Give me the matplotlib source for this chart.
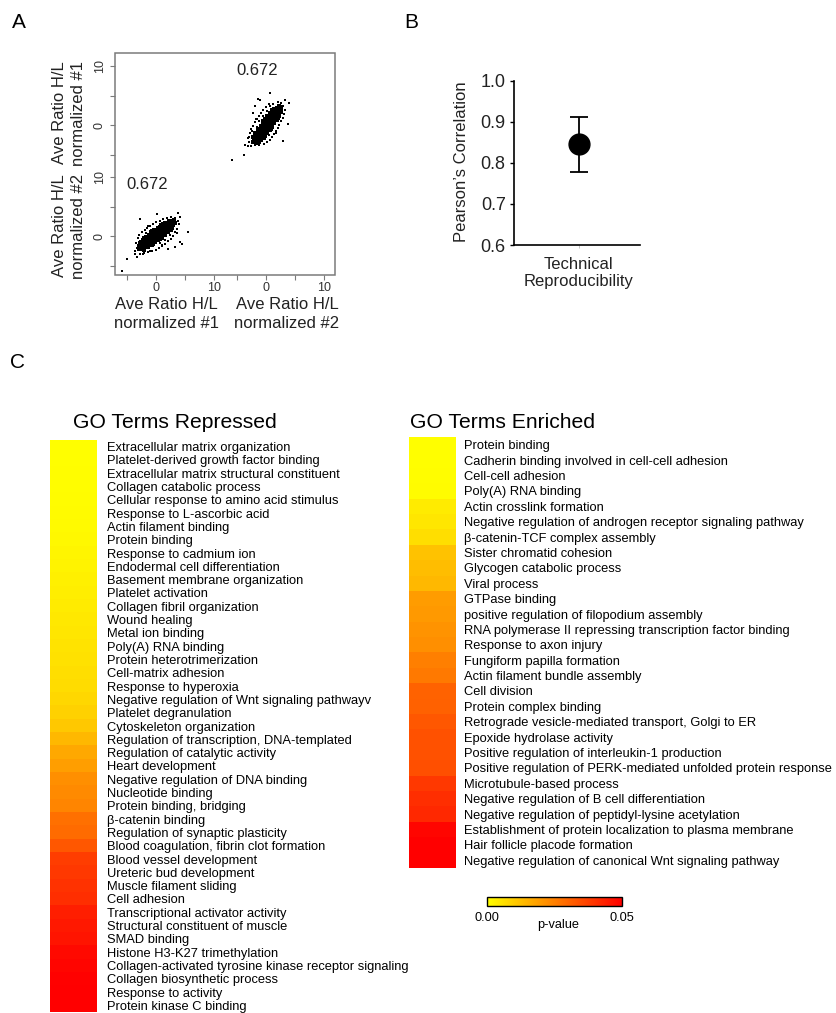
import matplotlib
matplotlib.use("Agg")
import matplotlib.pyplot as plt
from matplotlib.colors import LinearSegmentedColormap, Normalize
from matplotlib.cm import ScalarMappable
from matplotlib.patches import Rectangle
import numpy as np

plt.rcParams['font.family'] = ['Liberation Sans', 'DejaVu Sans']

# ---------------- data ----------------
# Panel A: replicate ratios (rep1 = normalized #1, rep2 = normalized #2)
core_rep1 = [-2.9, -2.45, -2.1,
             -3.0, -2.6, -2.15, -1.8, -1.35,
             -2.8, -2.35, -2.0, -1.6, -1.2, -0.75,
             -2.6, -2.2, -1.75, -1.4, -0.95, -0.6, -0.15,
             -2.25, -1.8, -1.45, -1.0, -0.55, -0.2, 0.25, 0.6,
             -1.8, -1.35, -1.0, -0.6, -0.15, 0.2, 0.65, 1.0,
             -1.3, -0.85, -0.5, -0.05, 0.3, 0.75, 1.1, 1.55,
             -0.8, -0.35, 0.0, 0.45, 0.8, 1.25, 1.6, 2.05,
             -0.3, 0.15, 0.5, 0.95, 1.3, 1.75, 2.1, 2.5,
             0.3, 0.75, 1.1, 1.55, 1.9, 2.35, 2.7,
             0.9, 1.35, 1.7, 2.15, 2.5, 2.95,
             1.6, 2.05, 2.4, 2.85, 3.2,
             2.3, 2.75, 3.1]
core_rep2 = [-2.25, -2.15, -2.3,
             -1.75, -1.85, -1.8, -1.75, -1.85,
             -1.4, -1.35, -1.45, -1.4, -1.35, -1.45,
             -0.95, -1.05, -1.0, -0.95, -1.05, -1.0, -0.95,
             -0.6, -0.55, -0.65, -0.6, -0.55, -0.65, -0.6, -0.55,
             -0.2, -0.25, -0.15, -0.2, -0.25, -0.15, -0.2, -0.25,
             0.2, 0.15, 0.25, 0.2, 0.15, 0.25, 0.2, 0.15,
             0.6, 0.65, 0.55, 0.6, 0.65, 0.55, 0.6, 0.65,
             1.0, 0.95, 1.05, 1.0, 0.95, 1.05, 1.0, 0.95,
             1.4, 1.45, 1.35, 1.4, 1.45, 1.35, 1.4,
             1.8, 1.75, 1.85, 1.8, 1.75, 1.85,
             2.2, 2.15, 2.25, 2.2, 2.15,
             2.6, 2.55, 2.65]
sparse_rep1 = [-3.6, -3.4, -3.2, -2.9, -2.5, -2.0, -1.5, -1.0, -0.5, 0.0,
               0.6, 1.2, 1.9, 2.6, 3.3, 3.7, 3.9, 3.6, 3.3, 3.0,
               2.6, 2.1, 1.6, 1.1, 0.5, -0.1, -0.7, -1.4, -2.1, -2.8,
               -3.3, -3.0, -2.3, -1.7, -0.9, 0.1, 1.0, 2.0, 2.9, 2.4,
               1.5, 0.7, -0.3, -1.2, -2.2,
               0.1, 3.8, 4.2, 5.5, 4.2, 3.6, -3.6, -5.0, -5.9, -2.2, -1.0,
               -1.4, -2.7, 4.4, 3.3, 2.1, 1.0, -3.3]
sparse_rep2 = [-2.6, -1.2, -0.4, 0.2, 0.7, 1.0, 1.3, 1.7, 2.0, 2.3,
               2.6, 2.9, 3.1, 3.2, 3.0, 2.6, 2.0, 1.2, 0.6, 0.0,
               -0.5, -0.9, -1.3, -1.7, -2.0, -2.3, -2.6, -2.7, -2.9, -3.0,
               -2.0, -1.0, -0.2, 0.5, 1.1, 1.6, 2.2, 2.7, 1.6, 0.1,
               -0.6, -1.2, -1.5, -2.1, -2.5,
               3.7, 3.9, 3.2, 0.7, -1.0, 0.5, -3.1, -3.9, -5.9, -3.1, -2.5,
               1.7, 2.9, -1.4, -1.9, -2.2, -1.6, -3.6]
pearson_text = "0.672"

# Panel B
b_category = ["Technical\nReproducibility"]
b_mean = [0.845]
b_low = [0.778]
b_high = [0.911]

# Panel C
rep_terms = ["Extracellular matrix organization",
             "Platelet-derived growth factor binding",
             "Extracellular matrix structural constituent",
             "Collagen catabolic process",
             "Cellular response to amino acid stimulus",
             "Response to L-ascorbic acid",
             "Actin filament binding",
             "Protein binding",
             "Response to cadmium ion",
             "Endodermal cell differentiation",
             "Basement membrane organization",
             "Platelet activation",
             "Collagen fibril organization",
             "Wound healing",
             "Metal ion binding",
             "Poly(A) RNA binding",
             "Protein heterotrimerization",
             "Cell-matrix adhesion",
             "Response to hyperoxia",
             "Negative regulation of Wnt signaling pathwayv",
             "Platelet degranulation",
             "Cytoskeleton organization",
             "Regulation of transcription, DNA-templated",
             "Regulation of catalytic activity",
             "Heart development",
             "Negative regulation of DNA binding",
             "Nucleotide binding",
             "Protein binding, bridging",
             "β-catenin binding",
             "Regulation of synaptic plasticity",
             "Blood coagulation, fibrin clot formation",
             "Blood vessel development",
             "Ureteric bud development",
             "Muscle filament sliding",
             "Cell adhesion",
             "Transcriptional activator activity",
             "Structural constituent of muscle",
             "SMAD binding",
             "Histone H3-K27 trimethylation",
             "Collagen-activated tyrosine kinase receptor signaling",
             "Collagen biosynthetic process",
             "Response to activity",
             "Protein kinase C binding"]
rep_p = [0.0002, 0.0003, 0.0004, 0.0005, 0.0006, 0.0008, 0.0010, 0.0015,
         0.0020, 0.0025, 0.0030, 0.0035, 0.0040, 0.0045, 0.0050, 0.0055,
         0.0060, 0.0065, 0.0070, 0.0080, 0.0090, 0.0108, 0.0140, 0.0170,
         0.0190, 0.0220, 0.0230, 0.0240, 0.0280, 0.0290, 0.0330, 0.0380,
         0.0390, 0.0400, 0.0410, 0.0440, 0.0450, 0.0460, 0.0480, 0.0490,
         0.0495, 0.0498, 0.0500]

enr_terms = ["Protein binding",
             "Cadherin binding involved in cell-cell adhesion",
             "Cell-cell adhesion",
             "Poly(A) RNA binding",
             "Actin crosslink formation",
             "Negative regulation of androgen receptor signaling pathway",
             "β-catenin-TCF complex assembly",
             "Sister chromatid cohesion",
             "Glycogen catabolic process",
             "Viral process",
             "GTPase binding",
             "positive regulation of filopodium assembly",
             "RNA polymerase II repressing transcription factor binding",
             "Response to axon injury",
             "Fungiform papilla formation",
             "Actin filament bundle assembly",
             "Cell division",
             "Protein complex binding",
             "Retrograde vesicle-mediated transport, Golgi to ER",
             "Epoxide hydrolase activity",
             "Positive regulation of interleukin-1 production",
             "Positive regulation of PERK-mediated unfolded protein response",
             "Microtubule-based process",
             "Negative regulation of B cell differentiation",
             "Negative regulation of peptidyl-lysine acetylation",
             "Establishment of protein localization to plasma membrane",
             "Hair follicle placode formation",
             "Negative regulation of canonical Wnt signaling pathway"]
enr_p = [0.0002, 0.0003, 0.0005, 0.0007, 0.0040, 0.0050, 0.0065, 0.0120,
         0.0130, 0.0140, 0.0195, 0.0200, 0.0210, 0.0220, 0.0250, 0.0260,
         0.0305, 0.0310, 0.0330, 0.0340, 0.0340, 0.0345, 0.0390, 0.0410,
         0.0420, 0.0490, 0.0498, 0.0500]
p_ticks = [0.0, 0.05]
p_ticklabels = ["0.00", "0.05"]

# ---------------- layout helpers ----------------
W, H = 836, 1013
fig = plt.figure(figsize=(W / 100, H / 100), dpi=100)


def fx(px):
    return px / W


def fy(py):
    return 1 - py / H


def box(x0, y0, x1, y1):
    return [x0 / W, 1 - y1 / H, (x1 - x0) / W, (y1 - y0) / H]


# Panel letters
fig.text(fx(12), fy(22), "A", fontsize=15, va="center", ha="left")
fig.text(fx(404), fy(22), "B", fontsize=15, va="center", ha="left")
fig.text(fx(10), fy(363), "C", fontsize=15, va="center", ha="left")

# ---------------- Panel A ----------------
xlim = (-7.1, 11.9)
ylim = (-6.6, 12.2)
gray = "#7a7a7a"
tick_txt = "#333333"
rows = [(53, 164), (164, 275)]
cols = [(115, 225), (225, 335)]
axA = {}
for r, (y0, y1) in enumerate(rows):
    for c, (x0, x1) in enumerate(cols):
        ax = fig.add_axes(box(x0, y0, x1, y1))
        ax.set_xlim(xlim)
        ax.set_ylim(ylim)
        for s in ax.spines.values():
            s.set_visible(False)
        ax.set_xticks([])
        ax.set_yticks([])
        ax.patch.set_alpha(0)
        axA[(r, c)] = ax

for r in range(2):
    ax = axA[(r, 0)]
    ax.set_yticks([-5, 0, 5, 10])
    ax.set_yticklabels(["", "0", "", "10"], rotation=90, va="center")
    ax.tick_params(axis="y", length=3.6, width=0.8, color=gray,
                   labelcolor=tick_txt, labelsize=9, pad=3)
for c in range(2):
    ax = axA[(1, c)]
    ax.set_xticks([-5, 0, 5, 10])
    ax.set_xticklabels(["", "0", "", "10"])
    ax.tick_params(axis="x", length=3.6, width=0.8, color=gray,
                   labelcolor=tick_txt, labelsize=9, pad=1.5)

fig.add_artist(Rectangle((fx(115), fy(275)), 220 / W, 222 / H,
                         transform=fig.transFigure, fill=False,
                         edgecolor=gray, lw=1.1))

ll = axA[(1, 0)]
ur = axA[(0, 1)]
ll.scatter(core_rep1, core_rep2, s=7, c="black", marker="s", linewidths=0)
ll.scatter(sparse_rep1, sparse_rep2, s=2.5, c="black", marker="s", linewidths=0)
ur.scatter(core_rep2, core_rep1, s=7, c="black", marker="s", linewidths=0)
ur.scatter(sparse_rep2, sparse_rep1, s=2.5, c="black", marker="s", linewidths=0)
ll.text(-1.6, 8.8, pearson_text, fontsize=12, ha="center", va="center", color="#222222")
ur.text(-1.6, 9.2, pearson_text, fontsize=12, ha="center", va="center", color="#222222")

fig.text(fx(166), fy(314), "Ave Ratio H/L\nnormalized #1", fontsize=12,
         ha="center", va="center", linespacing=1.3, color="#222222")
fig.text(fx(287), fy(314), "Ave Ratio H/L\nnormalized #2", fontsize=12,
         ha="center", va="center", linespacing=1.3, color="#222222")
fig.text(fx(69), fy(226), "Ave Ratio H/L\nnormalized #2", fontsize=12,
         ha="center", va="center", rotation=90, linespacing=1.35, color="#222222")
fig.text(fx(69), fy(113), "Ave Ratio H/L\nnormalized #1", fontsize=12,
         ha="center", va="center", rotation=90, linespacing=1.35, color="#222222")

# ---------------- Panel B ----------------
axB = fig.add_axes(box(514, 80.7, 640, 245))
xpos = np.arange(len(b_category))
yerr = [[m - lo for m, lo in zip(b_mean, b_low)],
        [hi - m for m, hi in zip(b_mean, b_high)]]
axB.errorbar(xpos, b_mean, yerr=yerr, fmt="o", color="black", ms=15,
             capsize=6.5, elinewidth=1.3, capthick=1.3)
axB.set_ylim(0.6, 1.0)
axB.set_xlim(-1.03, 0.97)
axB.set_yticks([0.6, 0.7, 0.8, 0.9, 1.0])
axB.set_yticklabels(["0.6", "0.7", "0.8", "0.9", "1.0"])
axB.set_xticks(xpos)
axB.set_xticklabels(b_category, fontsize=12, color="#222222")
axB.spines["top"].set_visible(False)
axB.spines["right"].set_visible(False)
axB.spines["left"].set_linewidth(1.2)
axB.spines["bottom"].set_linewidth(1.2)
axB.tick_params(axis="y", length=3.0, width=1.0, labelsize=13, pad=3,
                labelcolor="#222222")
axB.tick_params(axis="x", length=2.5, width=0.6, color="#bbbbbb", pad=6)
fig.text(fx(461.7), fy(162), "Pearson\u2019s Correlation", fontsize=12,
         rotation=90, ha="center", va="center", color="#222222")

# ---------------- Panel C ----------------
cmap = LinearSegmentedColormap.from_list("yr", ["#FFFF00", "#FF0000"])
norm = Normalize(vmin=0.0, vmax=0.05)


def heat(ax, pvals, terms, pad):
    ax.imshow(np.array(pvals)[:, None], cmap=cmap, norm=norm, aspect="auto",
              interpolation="nearest")
    ax.set_xticks([])
    ax.set_yticks(np.arange(len(terms)))
    ax.set_yticklabels(terms)
    ax.yaxis.tick_right()
    ax.tick_params(axis="y", length=0, pad=pad, labelsize=9.3)
    for s in ax.spines.values():
        s.set_visible(False)


axR = fig.add_axes(box(50, 440, 97, 1012))
heat(axR, rep_p, rep_terms, 7.5)
axE = fig.add_axes(box(409, 437, 456, 868))
heat(axE, enr_p, enr_terms, 6)

fig.text(fx(73), fy(428), "GO Terms Repressed", fontsize=15.2, va="baseline", ha="left")
fig.text(fx(410), fy(428), "GO Terms Enriched", fontsize=15.2, va="baseline", ha="left")

cax = fig.add_axes(box(487, 897, 622, 906))
cb = fig.colorbar(ScalarMappable(norm=norm, cmap=cmap), cax=cax,
                  orientation="horizontal", ticks=p_ticks)
cb.ax.set_xticklabels(p_ticklabels)
cb.ax.tick_params(length=0, labelsize=9.2, pad=4)
cb.outline.set_edgecolor("black")
cb.outline.set_linewidth(1.0)
fig.text(fx(558), fy(925), "p-value", fontsize=9.2, ha="center", va="center")

fig.savefig("out.png", dpi=100)
